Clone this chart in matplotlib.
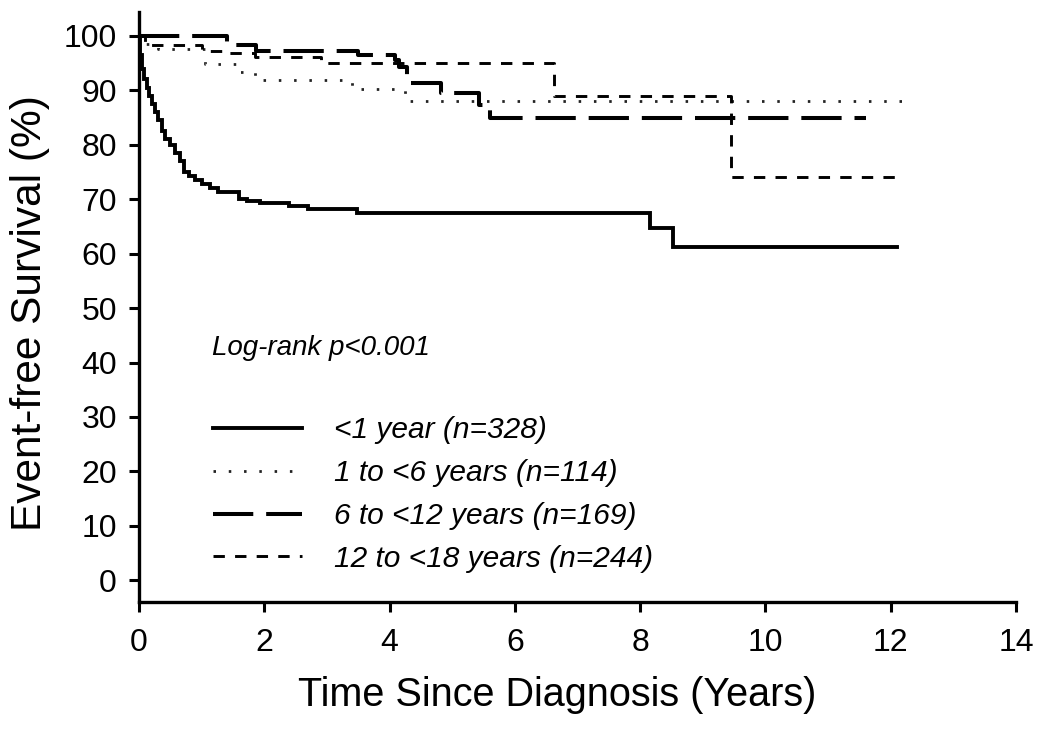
import matplotlib
matplotlib.use("Agg")
import matplotlib.pyplot as plt

plt.rcParams["font.family"] = ["Liberation Sans", "DejaVu Sans"]

# Kaplan-Meier step curves (time in years, event-free survival in %)
lt1_t = [0, 0.02, 0.05, 0.08, 0.12, 0.16, 0.2, 0.25, 0.3, 0.36, 0.42, 0.5, 0.58,
         0.66, 0.72, 0.8, 0.9, 1.0, 1.13, 1.26, 1.6, 1.72, 1.93, 2.4, 2.7, 3.48,
         8.15, 8.53, 12.1]
lt1_s = [100, 96.5, 94, 92, 90.5, 89, 87.5, 86, 84.5, 82.5, 81, 80, 78.5,
         77, 75, 74.3, 73.5, 72.8, 72, 71.3, 70, 69.6, 69.3, 68.8, 68.2, 67.4,
         64.8, 61.3, 61.3]

g1_6_t = [0, 0.05, 0.3, 1.05, 1.6, 1.85, 3.4, 4.25, 12.35]
g1_6_s = [100, 98.5, 97.6, 94.8, 93.3, 91.9, 90.3, 88.0, 88.0]

g6_12_t = [0, 1.4, 1.86, 3.5, 4.08, 4.15, 4.28, 4.82, 5.42, 5.6, 11.6]
g6_12_s = [100, 98.3, 97.3, 96.5, 95.6, 94.3, 91.4, 89.5, 87.3, 85.0, 85.0]

g12_18_t = [0, 0.1, 1.0, 1.4, 1.85, 2.9, 6.62, 9.45, 12.1]
g12_18_s = [100, 98.3, 97.2, 96.9, 96.2, 95.0, 89.0, 74.0, 74.0]

labels = ["<1 year (n=328)", "1 to <6 years (n=114)",
          "6 to <12 years (n=169)", "12 to <18 years (n=244)"]

fig = plt.figure(figsize=(10.5, 7.34), dpi=100)
ax = fig.add_axes([0.1324, 0.1798, 0.8352, 0.8039])

ax.step(lt1_t, lt1_s, where="post", color="black", lw=2.8,
        solid_joinstyle="miter", label=labels[0])
ax.step(g1_6_t, g1_6_s, where="post", color="#222222", lw=2.0,
        linestyle=(0, (0.9, 4.6)), label=labels[1])
ax.step(g6_12_t, g6_12_s, where="post", color="black", lw=2.9,
        linestyle=(0, (10, 3.2)), label=labels[2])
ax.step(g12_18_t, g12_18_s, where="post", color="black", lw=2.1,
        linestyle=(0, (3.9, 3.5)), label=labels[3])

ax.set_xlim(0, 14)
ax.set_ylim(-4, 104.4)
ax.set_xticks(range(0, 15, 2))
ax.set_yticks(range(0, 101, 10))

for side in ["top", "right"]:
    ax.spines[side].set_visible(False)
for side in ["left", "bottom"]:
    ax.spines[side].set_linewidth(2.4)
ax.tick_params(direction="out", length=7, width=2.2, labelsize=23)
ax.tick_params(axis="x", pad=12)
ax.tick_params(axis="y", pad=9)

ax.set_xlabel("Time Since Diagnosis (Years)", fontsize=28.5)
ax.xaxis.set_label_coords(0.477, -0.125)
ax.set_ylabel("Event-free Survival (%)", fontsize=30.5)
ax.yaxis.set_label_coords(-0.101, 0.49)

ax.text(1.16, 42.7, "Log-rank p<0.001", fontsize=20, style="italic",
        va="center", ha="left")

ax.legend(loc="upper left", bbox_to_anchor=(0.084, 0.315), frameon=False,
          prop={"size": 21.5, "style": "italic"}, handlelength=3.0,
          handletextpad=1.05, labelspacing=0.5, borderpad=0, borderaxespad=0)

fig.savefig("out.png", dpi=100)
